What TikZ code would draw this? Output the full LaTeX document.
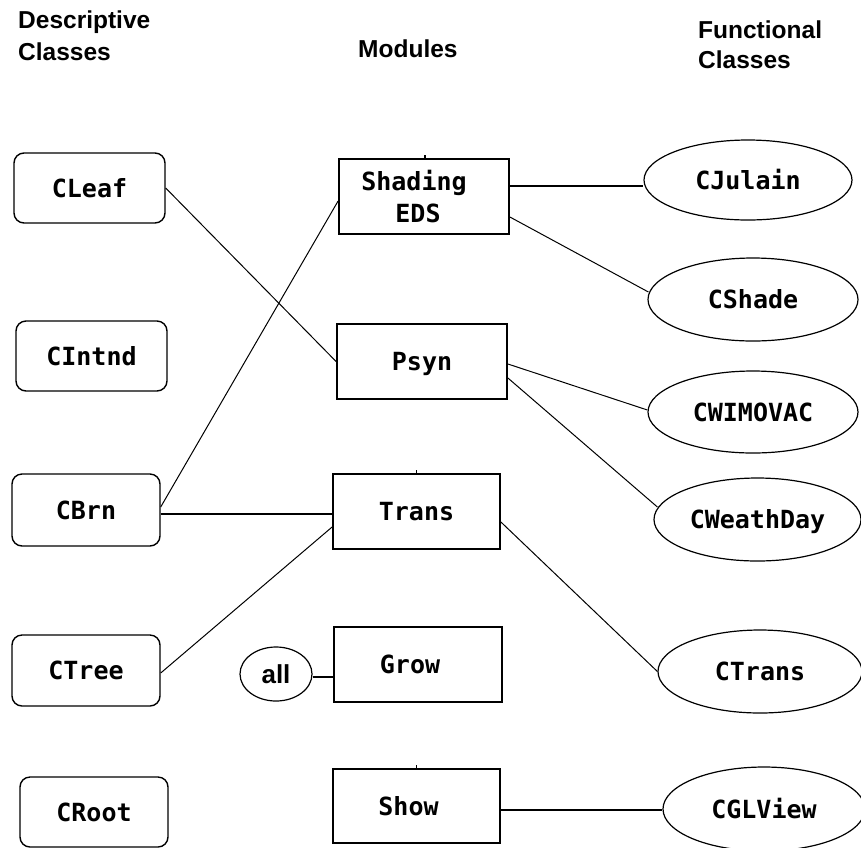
\documentclass[tikz,border=0pt]{standalone}
\usepackage{fontspec}
\usetikzlibrary{shapes.geometric}
\newfontfamily\headfont{Liberation Sans}
\newfontfamily\boxfont{DejaVu Sans Mono}
\newfontfamily\allfont{Liberation Sans}
\tikzset{
  head/.style={anchor=base west, inner sep=0pt, font=\headfont\bfseries\fontsize{24.5}{28}\selectfont},
  btext/.style={font=\boxfont\bfseries\fontsize{25}{32}\selectfont, text height=18pt, text depth=0pt},
  desc/.style={draw, rounded corners=10pt, line width=1.4pt, inner sep=0pt, btext},
  modbox/.style={draw, rectangle, line width=1.8pt, inner sep=0pt, btext},
  func/.style={draw, ellipse, line width=1.2pt, inner sep=0pt, btext},
  link/.style={line width=1pt},
  hlink/.style={line width=1.6pt},
  tick/.style={line width=1.2pt}
}
\begin{document}
\begin{tikzpicture}[x=1pt,y=-1pt]
\useasboundingbox (0,0) rectangle (861,847);
% headings
\node[head] (h1a) at (18,28) {Descriptive};
\node[head] (h1b) at (18,60) {Classes};
\node[head] (h2) at (358,57) {Modules};
\node[head] (h3a) at (698,38) {Functional};
\node[head] (h3b) at (698,68) {Classes};
% descriptive classes
\node[desc, minimum width=151pt, minimum height=70pt] (cleaf) at (89.5,188) {CLeaf};
\node[desc, minimum width=151pt, minimum height=70pt] (cintnd) at (91.5,356) {CIntnd};
\node[desc, minimum width=148pt, minimum height=72pt] (cbrn) at (86,510) {CBrn};
\node[desc, minimum width=148pt, minimum height=71pt] (ctree) at (86,670.5) {CTree};
\node[desc, minimum width=148pt, minimum height=70pt] (croot) at (94,812) {CRoot};
% modules
\node[modbox, minimum width=170pt, minimum height=75pt] (shading) at (424,196.5) {};
\node[btext, inner sep=0pt] (shadingA) at (414,181) {Shading};
\node[btext, inner sep=0pt] (shadingB) at (418,213) {EDS};
\node[modbox, minimum width=170pt, minimum height=75pt] (psyn) at (422,361.5) {Psyn};
\node[modbox, minimum width=167pt, minimum height=75pt] (trans) at (416.5,511.5) {Trans};
\node[modbox, minimum width=168pt, minimum height=75pt] (grow) at (418,664.5) {Grow\hspace*{16pt}};
\node[modbox, minimum width=167pt, minimum height=74pt] (show) at (416.5,806) {Show\hspace*{16pt}};
\node[draw, ellipse, line width=1.2pt, inner sep=0pt, minimum width=72pt, minimum height=54pt,
      font=\allfont\bfseries\fontsize{26}{30}\selectfont] (all) at (276,674) {all};
% functional classes
\node[func, minimum width=208pt, minimum height=80pt] (cjulain) at (748,180) {CJulain};
\node[func, minimum width=210pt, minimum height=83pt] (cshade) at (753,299.5) {CShade};
\node[func, minimum width=210pt, minimum height=82pt] (cwimovac) at (753,412) {CWIMOVAC};
\node[func, minimum width=207pt, minimum height=83pt] (cweathday) at (757.5,519.5) {CWeathDay};
\node[func, minimum width=204pt, minimum height=83pt] (ctrans) at (760,671.5) {CTrans};
\node[func, minimum width=202pt, minimum height=84pt] (cglview) at (764,809) {CGLView};
% connectors
\draw[link] (cleaf.east) -- (psyn.west);
\draw[link] ([yshift=3pt]cbrn.east) -- ([yshift=-4.5pt]shading.west);
\draw[hlink] ([yshift=-4pt]cbrn.east) -- ([yshift=-2.5pt]trans.west);
\draw[link] ([yshift=-2.5pt]ctree.east) -- ([yshift=-15.5pt]trans.west);
\draw[hlink] ([yshift=-3pt]all.east) -- ([yshift=-12.5pt]grow.west);
\draw[hlink] ([yshift=10.5pt]shading.east) -- ([yshift=-6pt]cjulain.west);
\draw[link] ([yshift=-20.5pt]shading.east) -- ([xshift=1pt,yshift=7.5pt]cshade.west);
\draw[link] ([yshift=-2.5pt]psyn.east) -- ([yshift=2pt]cwimovac.west);
\draw[link] ([yshift=-16.5pt]psyn.east) -- ([xshift=4pt,yshift=12.5pt]cweathday.west);
\draw[link] ([yshift=-10.5pt]trans.east) -- (ctrans.west);
\draw[hlink] ([yshift=-4pt]show.east) -- ([yshift=-1pt]cglview.west);
% small ticks above module boxes
\draw[tick] ([xshift=1pt]shading.north) -- ++(0,-3);
\draw[tick] (trans.north) -- ++(0,-3);
\draw[tick] (show.north) -- ++(0,-3);
\end{tikzpicture}
\end{document}
